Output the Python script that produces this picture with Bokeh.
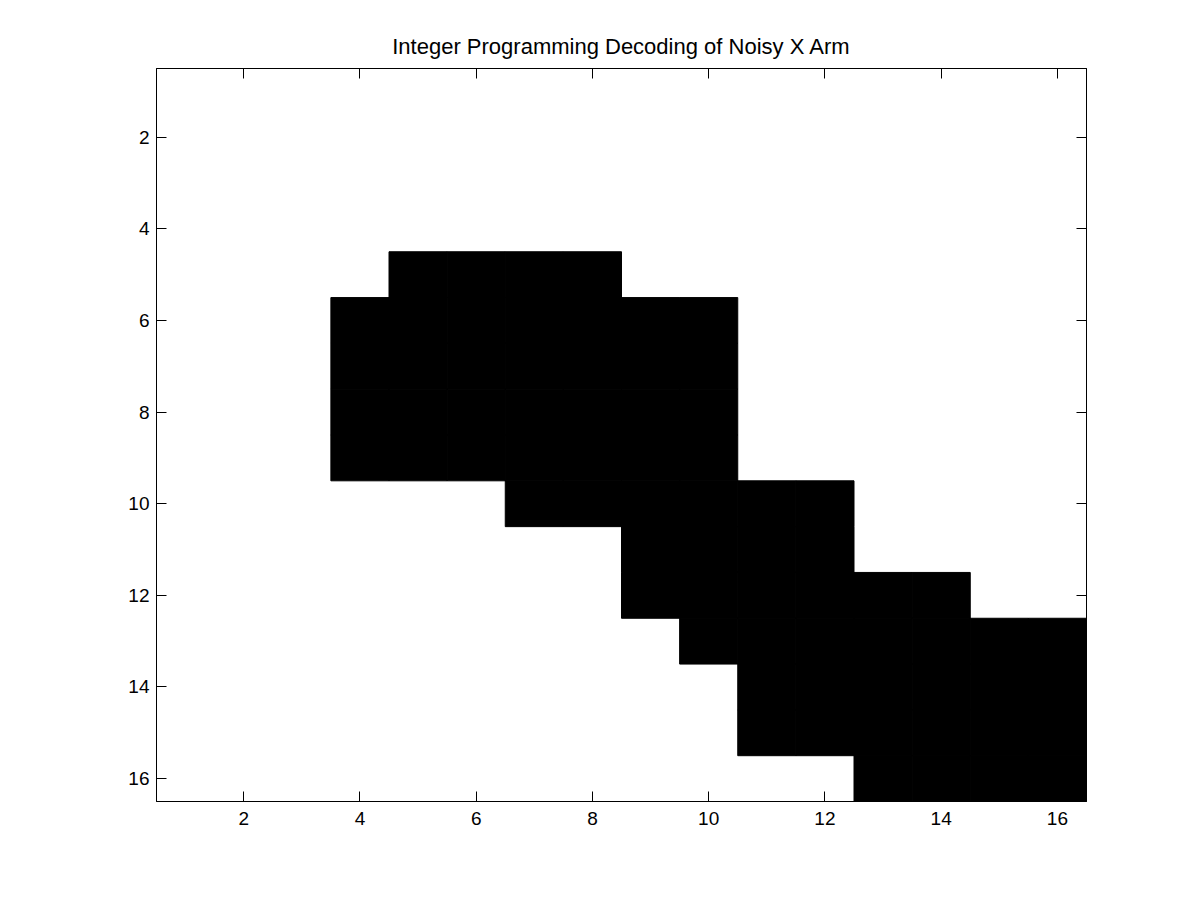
from bokeh.plotting import figure
from bokeh.models import Range1d, LinearAxis, FixedTicker
from bokeh.embed import file_html
from bokeh.resources import INLINE

title_text = "Integer Programming Decoding of Noisy X Arm"

# 16x16 decoded binary image (1 = black), rows top to bottom
rows = [
    "0000000000000000",
    "0000000000000000",
    "0000000000000000",
    "0000000000000000",
    "0000111100000000",
    "0001111111000000",
    "0001111111000000",
    "0001111111000000",
    "0001111111000000",
    "0000001111110000",
    "0000000011110000",
    "0000000011111100",
    "0000000001111111",
    "0000000000111111",
    "0000000000111111",
    "0000000000001111",
]
x_ticks = [2, 4, 6, 8, 10, 12, 14, 16]
y_ticks = [2, 4, 6, 8, 10, 12, 14, 16]

xs, ys = [], []
for r, row in enumerate(rows):
    for c, ch in enumerate(row):
        if ch == "1":
            xs.append(c + 1)
            ys.append(r + 1)

n = len(rows)
p = figure(width=1184, height=884, output_backend="svg", toolbar_location=None,
           x_range=Range1d(0.5, n + 0.5), y_range=Range1d(n + 0.5, 0.5),
           min_border_left=156, min_border_right=98, min_border_top=68, min_border_bottom=83,
           title=title_text)
p.rect(x=xs, y=ys, width=1, height=1, fill_color="black", line_color="black", line_width=1)

p.grid.visible = False
p.outline_line_color = "black"
p.outline_line_width = 1
p.background_fill_color = "white"
p.border_fill_color = "white"

p.title.align = "center"
p.title.text_font = "Liberation Sans"
p.title.text_font_style = "normal"
p.title.text_font_size = "22px"
p.title.text_color = "black"
p.title.standoff = 19

xa = p.xaxis[0]
ya = p.yaxis[0]
for ax, t in ((xa, x_ticks), (ya, y_ticks)):
    ax.ticker = FixedTicker(ticks=t)
    ax.major_tick_in = 10
    ax.major_tick_out = 0
    ax.minor_tick_line_color = None
    ax.axis_line_color = "black"
    ax.major_tick_line_color = "black"
    ax.major_label_text_font = "Liberation Sans"
    ax.major_label_text_font_size = "19px"
    ax.major_label_text_color = "black"
xa.major_label_standoff = 10
ya.major_label_standoff = 7

top = LinearAxis(ticker=FixedTicker(ticks=x_ticks), major_tick_in=10, major_tick_out=0,
                 minor_tick_line_color=None, major_label_overrides={t: "" for t in x_ticks},
                 major_label_text_font_size="1px", major_label_standoff=0)
right = LinearAxis(ticker=FixedTicker(ticks=y_ticks), major_tick_in=10, major_tick_out=0,
                   minor_tick_line_color=None, major_label_overrides={t: "" for t in y_ticks},
                   major_label_text_font_size="1px", major_label_standoff=0)
p.add_layout(top, "above")
p.add_layout(right, "right")

open("out.html", "w").write(file_html(p, INLINE))
